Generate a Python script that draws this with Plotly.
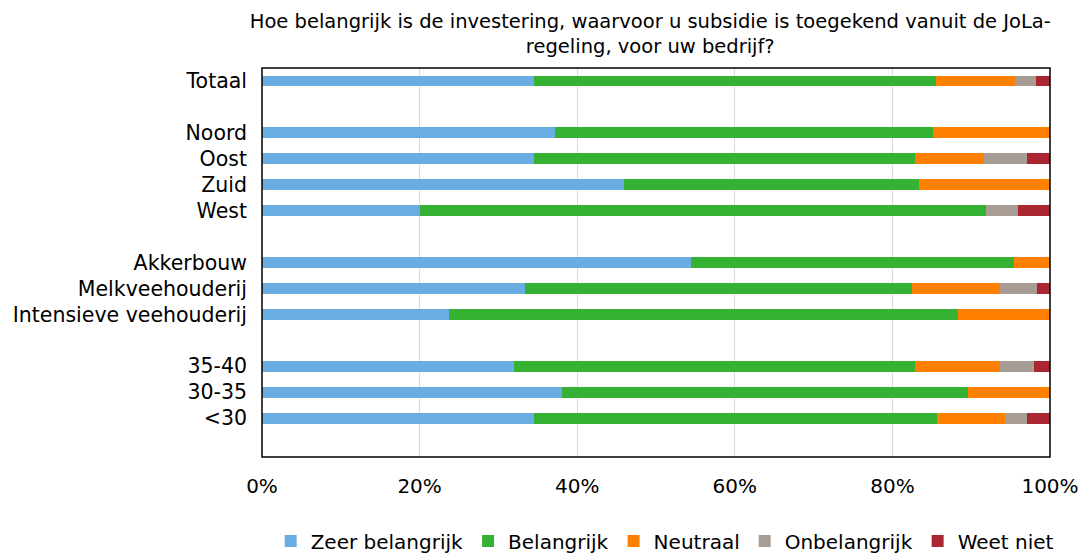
import plotly.graph_objects as go

categories = ["Totaal", "Noord", "Oost", "Zuid", "West",
              "Akkerbouw", "Melkveehouderij", "Intensieve veehouderij",
              "35-40", "30-35", "<30"]
# order on axis (spacers are empty slots)
category_order = ["Totaal", " ", "Noord", "Oost", "Zuid", "West", "  ",
                  "Akkerbouw", "Melkveehouderij", "Intensieve veehouderij", "   ",
                  "35-40", "30-35", "<30", "    "]

series_names = ["Zeer belangrijk", "Belangrijk", "Neutraal", "Onbelangrijk", "Weet niet"]
zeer_belangrijk = [34.5, 37.2, 34.5, 46.0, 20.1, 54.5, 33.4, 23.7, 32.0, 38.1, 34.5]
belangrijk      = [51.0, 47.9, 48.4, 37.4, 71.8, 40.9, 49.1, 64.6, 50.9, 51.5, 51.2]
neutraal        = [10.1, 14.9,  8.7, 16.6,  0.0,  4.6, 11.2, 11.7, 10.8, 10.4,  8.6]
onbelangrijk    = [ 2.6,  0.0,  5.5,  0.0,  4.1,  0.0,  4.7,  0.0,  4.3,  0.0,  2.8]
weet_niet       = [ 1.8,  0.0,  2.9,  0.0,  4.0,  0.0,  1.6,  0.0,  2.0,  0.0,  2.9]
colors = ["#6AADE3", "#35B234", "#FF7F00", "#A79D95", "#AA2731"]

x_ticks = [0, 20, 40, 60, 80, 100]
x_ticklabels = ["0%", "20%", "40%", "60%", "80%", "100%"]

fig = go.Figure()
for name, vals, col in zip(series_names,
                           [zeer_belangrijk, belangrijk, neutraal, onbelangrijk, weet_niet],
                           colors):
    fig.add_trace(go.Bar(
        y=categories, x=vals, name=name, orientation="h",
        marker=dict(color=col, line=dict(width=0)),
        width=0.42,
    ))

font_family = "DejaVu Sans, Verdana, sans-serif"
fig.update_layout(
    barmode="stack",
    width=1082, height=553,
    margin=dict(l=262, r=32, t=68, b=96, autoexpand=False),
    paper_bgcolor="white", plot_bgcolor="white",
    font=dict(family=font_family, size=20, color="#000000"),
    title=dict(
        text="Hoe belangrijk is de investering, waarvoor u subsidie is toegekend vanuit de JoLa-<br>regeling, voor uw bedrijf?",
        x=0.601, xanchor="center", y=0.95, yanchor="top",
        font=dict(family=font_family, size=19.5, color="#000000"),
    ),
    xaxis=dict(
        range=[0, 100], tickvals=x_ticks, ticktext=x_ticklabels,
        showgrid=True, gridcolor="#D9D9D9", gridwidth=1.3,
        showline=False,
        ticks="", zeroline=False, ticklabelstandoff=15,
        tickfont=dict(size=20), automargin=False,
    ),
    yaxis=dict(
        type="category", categoryorder="array", categoryarray=category_order,
        range=[14.5, -0.5],
        showline=False,
        showgrid=False, ticks="", ticklabelstandoff=14,
        tickfont=dict(size=20.5), automargin=False,
    ),
    legend=dict(
        orientation="h", x=0.511, xanchor="center", y=-0.216, yanchor="middle",
        font=dict(size=20), traceorder="normal",
        itemsizing="constant",
    ),
    bargap=0.58,
    shapes=[dict(type="rect", xref="paper", yref="paper", x0=0, x1=1, y0=0, y1=1,
                 line=dict(color="black", width=1.5), layer="above")],
)

fig.write_html("out.html", config={"displayModeBar": False},
               post_script=["document.body.style.margin='0px';"])
